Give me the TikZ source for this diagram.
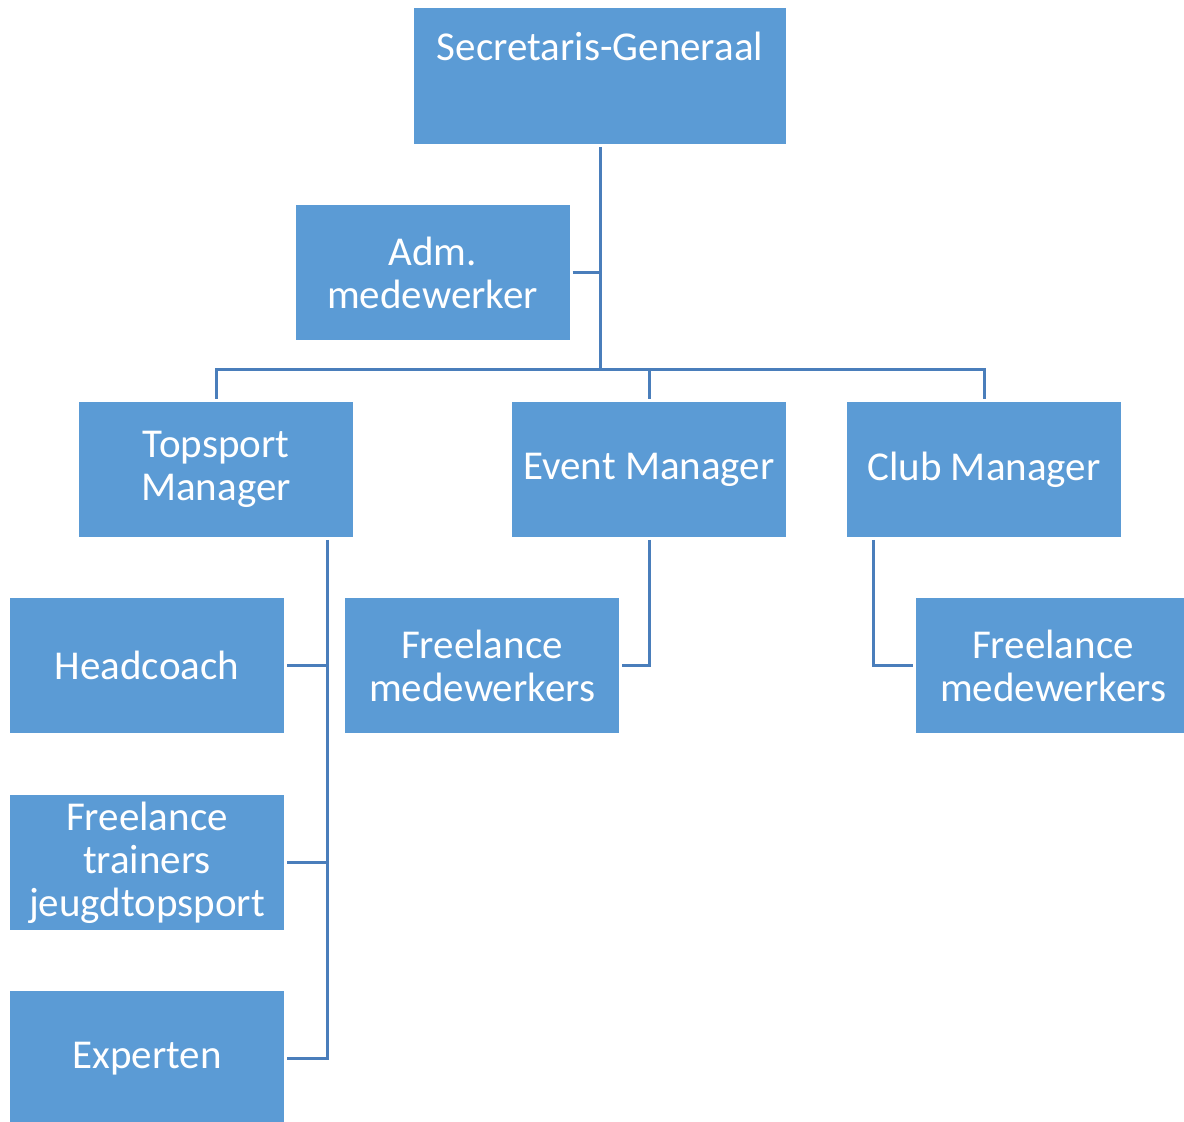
\documentclass[tikz,border=0pt]{standalone}
\usepackage{fontspec}
\setmainfont{Carlito}
\usepackage{xcolor}
\definecolor{boxblue}{HTML}{5B9BD5}
\definecolor{lineblue}{HTML}{4A7EBB}

\begin{document}
\begin{tikzpicture}[x=0.5pt,y=-0.5pt,
    box/.style={fill=boxblue, text=white, minimum width=137pt, minimum height=67.5pt,
      inner sep=0pt, outer sep=1.5pt, align=center, font=\fontsize{20.5}{21.5}\selectfont},
    link/.style={draw=lineblue, line width=1.5pt}]
    \useasboundingbox (0,0) rectangle (1184,1122);
    % boxes
    \node[box, minimum width=186pt, minimum height=68pt] (sg) at (600,76) {Secretaris-Generaal\\[8pt]\mbox{}};
    \node[box] (adm) at (432.5,272.5) {Adm.\\medewerker};
    \node[box] (top) at (216,469.5) {Topsport\\Manager};
    \node[box] (event) at (649,469.5) {Event Manager};
    \node[box] (club) at (984,469.5) {Club Manager};
    \node[box] (head) at (147,665.5) {Headcoach};
    \node[box] (ftr) at (147,862.5) {Freelance\\trainers\\jeugdtopsport};
    \node[box] (exp) at (147,1058.5) {Experten};
    \node[box] (fev) at (482,665.5) {Freelance\\medewerkers};
    \node[box] (fcl) at (1053,665.5) {Freelance\\medewerkers};
    % connectors
    \coordinate (bus) at (600,370);
    \coordinate (tt) at (327,540);
    \coordinate (ct) at (873,540);
    \draw[link] (sg.south) -- (bus);
    \draw[link] (adm.east) -- (adm.east -| bus);
    \draw[link] (top.north) |- (bus) -| (club.north);
    \draw[link] (event.north) -- (event.north |- bus);
    \draw[link] (tt) |- (exp.east);
    \draw[link] (head.east) -- (head.east -| tt);
    \draw[link] (ftr.east) -- (ftr.east -| tt);
    \draw[link] (event.south) |- (fev.east);
    \draw[link] (ct) |- (fcl.west);
\end{tikzpicture}
\end{document}
